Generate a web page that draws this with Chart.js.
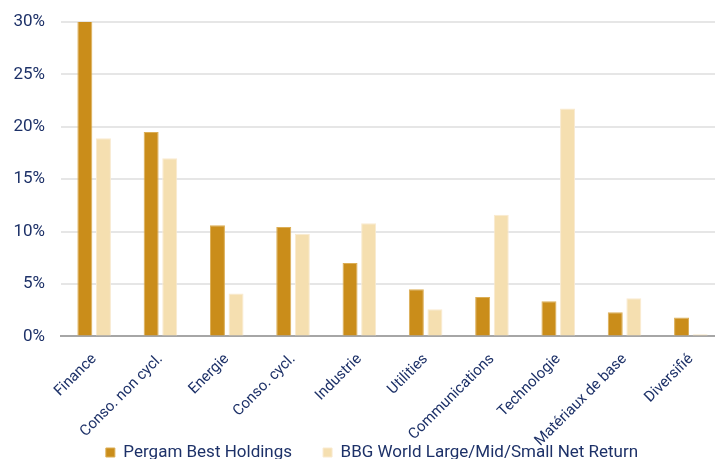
<!DOCTYPE html>
<html>
<head>
<meta charset="utf-8">
<script src="https://cdn.jsdelivr.net/npm/chart.js@4/dist/chart.umd.min.js"></script>
<style>
  html, body { margin: 0; padding: 0; background: #fff; overflow: hidden; }
  #wrap { position: relative; width: 736px; height: 522px; }
</style>
</head>
<body>
<div id="wrap"><canvas id="c"></canvas></div>
<script>
const categories = ["Finance", "Conso. non cycl.", "Energie", "Conso. cycl.", "Industrie", "Utilities", "Communications", "Technologie", "Matériaux de base", "Diversifié"];
const pergam = [30.1, 19.5, 10.6, 10.45, 7.0, 4.5, 3.75, 3.35, 2.3, 1.8];
const bbg = [18.9, 17.0, 4.1, 9.8, 10.8, 2.6, 11.6, 21.75, 3.65, 0.2];
const seriesNames = ["Pergam Best Holdings", "BBG World Large/Mid/Small Net Return"];
const yTicks = [0, 5, 10, 15, 20, 25, 30];

const navy = '#1d3168';

// Move the legend closer to the rotated axis labels (position only).
const legendShift = {
  id: 'legendShift',
  afterLayout(chart) {
    const lg = chart.legend;
    if (!lg) return;
    const pad = lg.options.labels.padding;
    const dy = 451 - (lg.top + pad + 7);
    lg.top += dy; lg.bottom += dy;
    lg.left += 4; lg.right += 4;
  }
};

new Chart(document.getElementById('c'), {
  type: 'bar',
  data: {
    labels: categories,
    datasets: [
      { label: seriesNames[0], data: pergam, backgroundColor: '#ca8d1a', borderColor: '#dcae55', borderWidth: 1,
        categoryPercentage: 0.561, barPercentage: 0.806 },
      { label: seriesNames[1], data: bbg, backgroundColor: '#f5dfb0', borderColor: '#f9ead0', borderWidth: 1,
        categoryPercentage: 0.561, barPercentage: 0.806 }
    ]
  },
  plugins: [legendShift],
  options: {
    responsive: true,
    maintainAspectRatio: false,
    animation: false,
    layout: { padding: { left: 12, right: 12, top: 22, bottom: 0 } },
    plugins: {
      legend: {
        position: 'bottom',
        labels: {
          color: navy,
          font: { family: 'Roboto', size: 17 },
          boxWidth: 9, boxHeight: 9,
          padding: 31
        }
      },
      tooltip: { enabled: false }
    },
    scales: {
      x: {
        grid: { display: false, drawTicks: false },
        border: { display: true, color: '#a6a6a6', width: 2 },
        ticks: {
          color: navy,
          font: { family: 'Roboto', size: 15 },
          maxRotation: 45, minRotation: 45,
          padding: 14,
          autoSkip: false
        },
        afterFit: (s) => { s.paddingLeft = 0; s.paddingRight = 0; }
      },
      y: {
        min: 0, max: 30,
        afterBuildTicks: (axis) => { axis.ticks = yTicks.map(v => ({ value: v })); },
        grid: { color: '#e6e6e6', lineWidth: 2, drawTicks: false },
        border: { display: false },
        ticks: {
          color: navy,
          font: { family: 'Roboto', size: 17 },
          padding: 16,
          callback: (v) => v + '%'
        },
        afterFit: (s) => { s.width = 49; s.paddingTop = 0; }
      }
    }
  }
});
</script>
</body>
</html>
